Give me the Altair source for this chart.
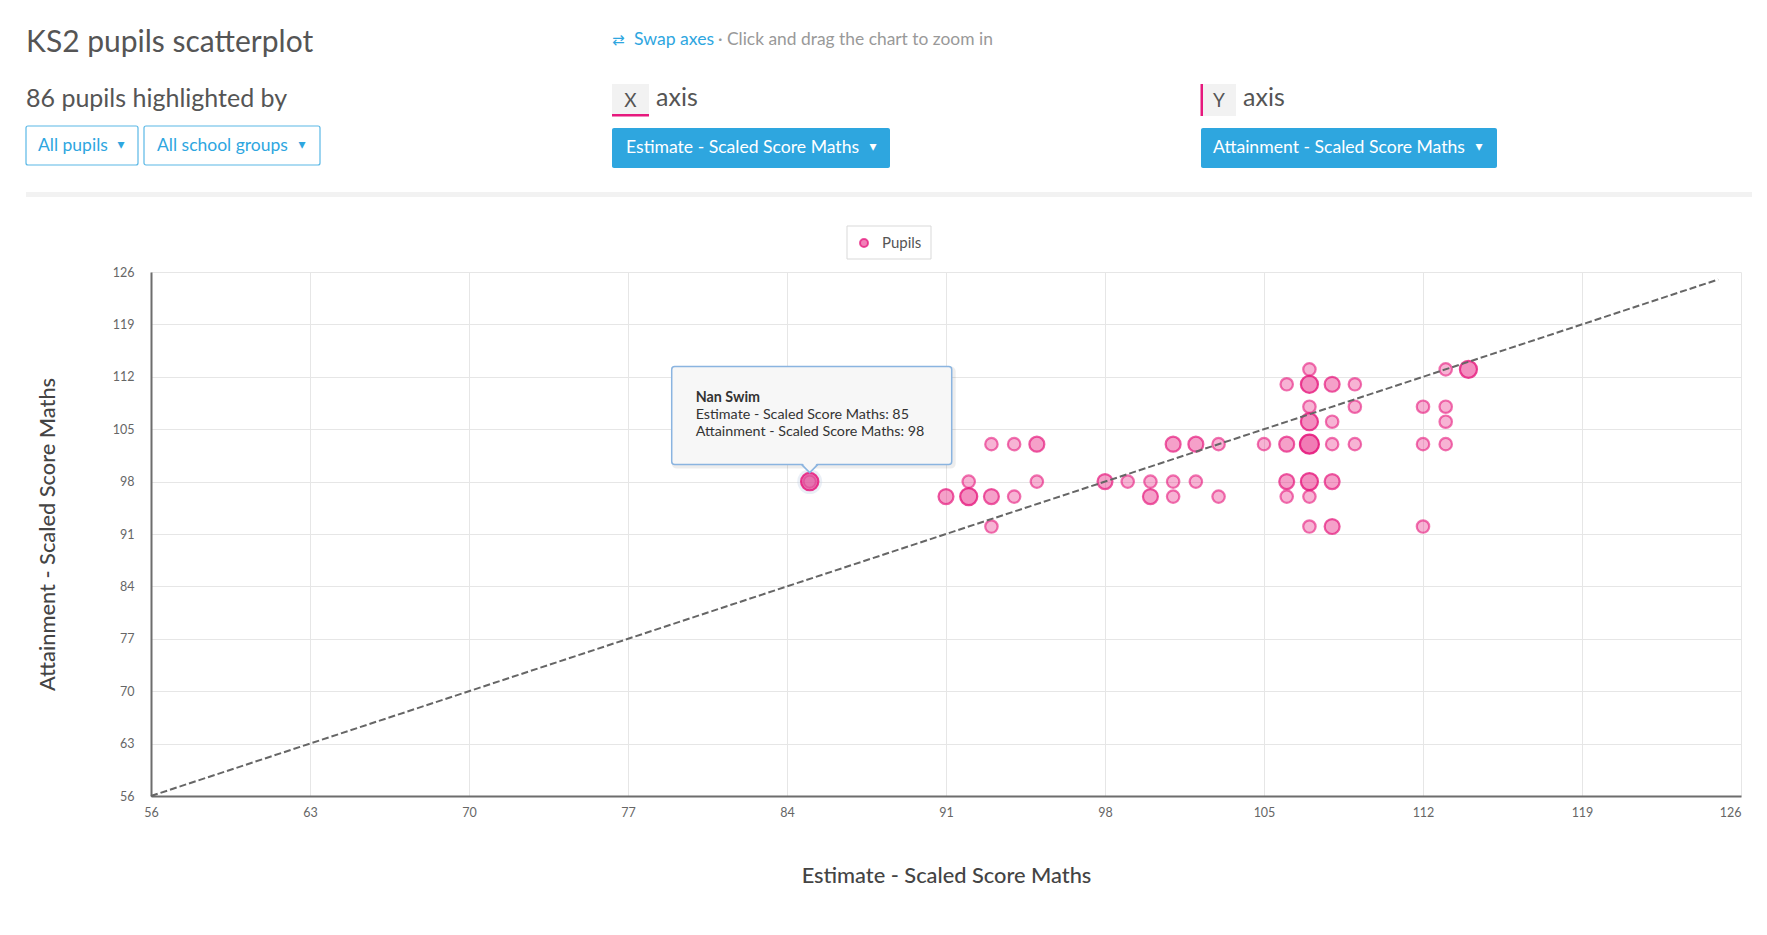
import altair as alt
import pandas as pd

# ---- data ----
x_title = "Estimate - Scaled Score Maths"
y_title = "Attainment - Scaled Score Maths"
tick_vals = [56, 63, 70, 77, 84, 91, 98, 105, 112, 119, 126]

# pupils grouped by identical (estimate, attainment) pairs; n = pupils at that spot
px = [107, 113, 114,
      106, 107, 108, 109,
      107, 109, 112, 113,
      107, 108, 113,
      93, 94, 95, 101, 102, 103, 105, 106, 107, 108, 109, 112, 113,
      85, 92, 95, 98, 99, 100, 101, 102, 106, 107, 108,
      91, 92, 93, 94, 100, 101, 103, 106, 107,
      93, 107, 108, 112]
py = [113, 113, 113,
      111, 111, 111, 111,
      108, 108, 108, 108,
      106, 106, 106,
      103, 103, 103, 103, 103, 103, 103, 103, 103, 103, 103, 103, 103,
      98, 98, 98, 98, 98, 98, 98, 98, 98, 98, 98,
      96, 96, 96, 96, 96, 96, 96, 96, 96,
      92, 92, 92, 92]
pn = [1, 1, 4,
      1, 4, 2, 1,
      1, 1, 1, 1,
      4, 1, 1,
      1, 1, 2, 2, 2, 1, 1, 2, 9, 1, 1, 1, 1,
      1, 1, 1, 2, 1, 1, 1, 1, 2, 4, 2,
      2, 4, 2, 1, 2, 1, 1, 1, 1,
      1, 1, 2, 1]

diag_vals = [56, 125]

hl_name = ["Nan Swim"]
hl_x = [85]
hl_y = [98]

total_pupils = sum(pn)

PINK = "#e6197d"
BLUE = "#2ea6df"
FONT = "Lato"

pts = pd.DataFrame({"x": px, "y": py, "n": pn})
diag = pd.DataFrame({"x": diag_vals, "y": diag_vals})
hl = pd.DataFrame({
    "x": hl_x, "y": hl_y, "name": hl_name,
    "l1": [f"{x_title}: {v}" for v in hl_x],
    "l2": [f"{y_title}: {v}" for v in hl_y],
})
one = pd.DataFrame({"k": [0]})

X = alt.X("x:Q",
          scale=alt.Scale(domain=[56, 126], nice=False, zero=False),
          axis=alt.Axis(values=tick_vals, grid=True, labelPadding=10,
                        labelOverlap=False,
                        labelAlign=alt.ExprRef(expr="datum.value == 126 ? 'right' : 'center'"),
                        titleX=795, titleY=79, titleBaseline="middle", titleAlign="center"),
          title=x_title)
Y = alt.Y("y:Q",
          scale=alt.Scale(domain=[56, 126], nice=False, zero=False),
          axis=alt.Axis(values=tick_vals, grid=True, labelPadding=17, labelOverlap=False,
                        titleX=-104, titleY=262, titleAngle=270,
                        titleBaseline="middle", titleAlign="center"),
          title=y_title)

nd = [1, 2, 4, 9]
points = alt.Chart(pts).mark_point(
    filled=True, shape="circle", fill=PINK, stroke=PINK, strokeWidth=2.2, opacity=1
).encode(
    x=X, y=Y,
    size=alt.Size("n:O", scale=alt.Scale(domain=nd, range=[155, 360, 360, 360]), legend=None),
    fillOpacity=alt.FillOpacity("n:O", scale=alt.Scale(domain=nd, range=[0.33, 0.57, 0.8, 1.0]), legend=None),
    strokeOpacity=alt.StrokeOpacity("n:O", scale=alt.Scale(domain=nd, range=[0.6, 0.9, 1.0, 1.0]), legend=None),
)

line = alt.Chart(diag).mark_line(color="#666666", strokeWidth=2, strokeDash=[7, 3]).encode(x=X, y=Y)

# hovered pupil + tooltip
halo = alt.Chart(hl).mark_point(filled=True, shape="circle", fill="#c4d2e4", opacity=0.35, size=620).encode(x=X, y=Y)
hover = alt.Chart(hl).mark_point(filled=True, shape="circle", fill=PINK, fillOpacity=0.45,
                                 stroke=PINK, strokeWidth=2.2, strokeOpacity=0.85, opacity=1,
                                 size=300).encode(x=X, y=Y)
tip_shadow = alt.Chart(hl).mark_rect(fill="none", stroke="#000000", strokeOpacity=0.07, strokeWidth=4,
                                     cornerRadius=3, xOffset=-136, x2Offset=144, yOffset=-113, y2Offset=-15
                                     ).encode(x=X, x2=alt.X2("x"), y=Y, y2=alt.Y2("y"))
tip_box = alt.Chart(hl).mark_rect(fill="#f7f7f7", stroke="#8ab4e0", strokeWidth=1.5, cornerRadius=3,
                                  xOffset=-138, x2Offset=142, yOffset=-115, y2Offset=-17
                                  ).encode(x=X, x2=alt.X2("x"), y=Y, y2=alt.Y2("y"))
tip_fill = alt.Chart(hl).mark_point(shape="M-1,-0.3L0,1L1,-0.3Z", filled=True, fill="#f7f7f7",
                                    strokeWidth=0, opacity=1, size=256, yOffset=-17).encode(x=X, y=Y)
tip_edge = alt.Chart(hl).mark_point(shape="M-1,0L0,1L1,0", filled=False, color="#8ab4e0",
                                    strokeWidth=1.5, opacity=1, size=256, yOffset=-17).encode(x=X, y=Y)
tip_t0 = alt.Chart(hl).mark_text(align="left", baseline="middle", dx=-114, dy=-84, font=FONT,
                                 fontSize=14.3, fontWeight="bold", color="#333333").encode(x=X, y=Y, text="name:N")
tip_t1 = alt.Chart(hl).mark_text(align="left", baseline="middle", dx=-114, dy=-67, font=FONT,
                                 fontSize=14.3, color="#333333").encode(x=X, y=Y, text="l1:N")
tip_t2 = alt.Chart(hl).mark_text(align="left", baseline="middle", dx=-114, dy=-50, font=FONT,
                                 fontSize=14.3, color="#333333").encode(x=X, y=Y, text="l2:N")


def ui_text(txt, x, y, size, color, weight="normal", align="left", font=FONT):
    return alt.Chart(one).mark_text(text=txt, align=align, baseline="middle", fontSize=size,
                                    color=color, fontWeight=weight, font=font
                                    ).encode(x=alt.value(x), y=alt.value(y))


def ui_rect(x, x2, y, y2, fill, stroke=None, sw=1, r=0):
    kw = dict(fill=fill, cornerRadius=r)
    if stroke:
        kw.update(stroke=stroke, strokeWidth=sw)
    return alt.Chart(one).mark_rect(**kw).encode(
        x=alt.value(x), x2=alt.value(x2), y=alt.value(y), y2=alt.value(y2))


ui = [
    ui_text("KS2 pupils scatterplot", -125, -229, 30, "#555555"),
    ui_text(f"{total_pupils} pupils highlighted by", -125, -173, 25, "#555555"),
    ui_rect(-125, -13, -146, -107, "#ffffff", "#5ab8e6", 1.2, 2),
    ui_text("All pupils", -113, -126, 17.5, BLUE),
    ui_text("▾", -30, -127, 14, BLUE, align="center", font="DejaVu Sans"),
    ui_rect(-7, 169, -146, -107, "#ffffff", "#5ab8e6", 1.2, 2),
    ui_text("All school groups", 6, -126, 17.5, BLUE),
    ui_text("▾", 151, -127, 14, BLUE, align="center", font="DejaVu Sans"),
    ui_text("⇄", 461, -232, 15, BLUE, font="DejaVu Sans"),
    ui_text("Swap axes", 483, -232, 17.6, BLUE),
    ui_text("· Click and drag the chart to zoom in", 567, -232, 17.4, "#999999"),
    ui_rect(461, 498, -188, -157, "#f2f2f2"),
    ui_rect(461, 498, -158, -155.5, PINK),
    ui_text("X", 479.5, -171, 19, "#555555", align="center"),
    ui_text("axis", 505, -174, 25, "#555555"),
    ui_rect(461, 739, -144, -104, BLUE, r=2),
    ui_text(x_title, 475, -124, 17.6, "#ffffff"),
    ui_text("▾", 722, -125, 14, "#ffffff", align="center", font="DejaVu Sans"),
    ui_rect(1050, 1085, -188, -156, "#f2f2f2"),
    ui_rect(1049.5, 1052, -188, -156, PINK),
    ui_text("Y", 1068, -171, 19, "#555555", align="center"),
    ui_text("axis", 1092, -174, 25, "#555555"),
    ui_rect(1050, 1346, -144, -104, BLUE, r=2),
    ui_text(y_title, 1062, -124, 17.6, "#ffffff"),
    ui_text("▾", 1328, -125, 14, "#ffffff", align="center", font="DejaVu Sans"),
    ui_rect(-125, 1601, -80, -75, "#f2f2f2"),
    ui_rect(696, 780, -46, -13, "#ffffff", "#d9d9d9", 1),
    alt.Chart(one).mark_point(filled=True, shape="circle", fill=PINK, fillOpacity=0.55, stroke=PINK,
                              strokeOpacity=0.75, strokeWidth=2, opacity=1, size=64
                              ).encode(x=alt.value(713), y=alt.value(-29)),
    ui_text("Pupils", 731, -29, 15, "#555555"),
]

chart = alt.layer(
    points, line, halo, hover, tip_shadow, tip_box, tip_fill, tip_edge, tip_t0, tip_t1, tip_t2, *ui
).properties(
    width=1590, height=524,
    autosize=alt.AutoSizeParams(type="none"),
    padding={"left": 143, "top": 264, "right": 16, "bottom": 120},
    background="#ffffff",
).configure_view(stroke=None).configure_axis(
    labelFont=FONT, titleFont=FONT, gridColor="#e6e6e6", gridWidth=1,
    domainColor="#6d6d6d", domainWidth=2, ticks=False,
    labelColor="#666666", labelFontSize=12.5,
    titleColor="#444444", titleFontSize=21.8, titleFontWeight=500,
)

chart.save("out.html", embed_options={"renderer": "svg", "actions": False})
